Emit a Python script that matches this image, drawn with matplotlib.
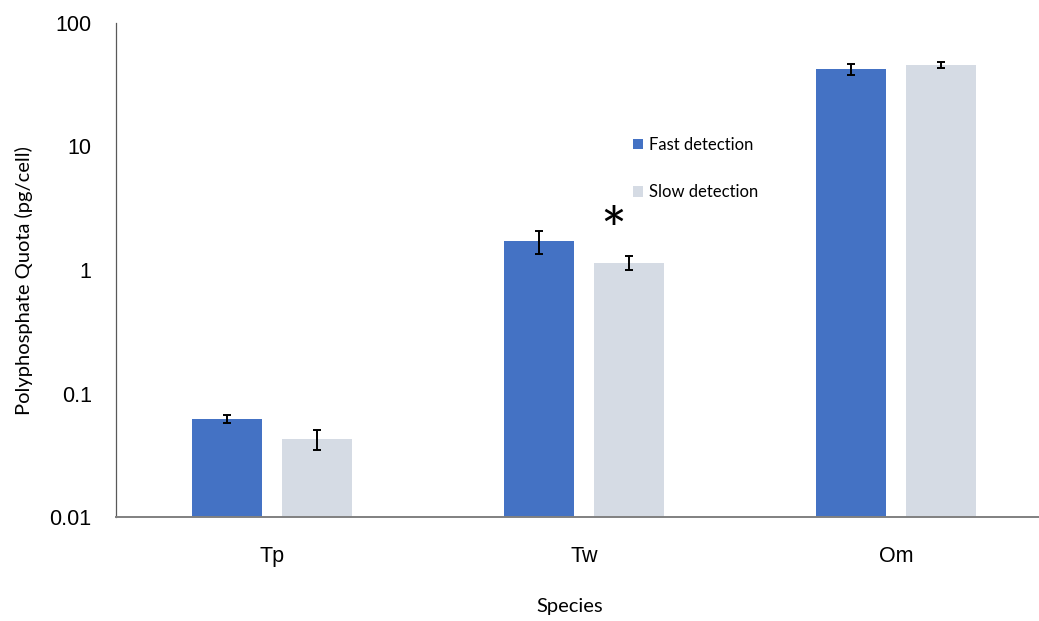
import numpy as np
import matplotlib
matplotlib.use("Agg")
import matplotlib.pyplot as plt
from matplotlib.ticker import FixedLocator, FixedFormatter, NullLocator

# ─── DATA ────────────────────────────────────────────────────────────────────
species = ["Tp", "Tw", "Om"]
fast_vals = [0.0624, 1.71, 42.1]
fast_err = [0.0045, 0.37, 4.3]
slow_vals = [0.043, 1.15, 45.6]
slow_err = [0.008, 0.15, 2.6]
yticks = [0.01, 0.1, 1, 10, 100]
ytick_labels = ["0.01", "0.1", "1", "10", "100"]

# ─── STYLE ───────────────────────────────────────────────────────────────────
BLUE, GREY = "#4472C4", "#D5DBE4"
LABEL_FONT = ["Lato", "DejaVu Sans"]
TICK_FONT = ["Liberation Sans", "DejaVu Sans"]

fig = plt.figure(figsize=(10.39, 6.21), dpi=100)
ax = fig.add_axes([116 / 1039, 104 / 621, 936 / 1039, 494 / 621])

x = np.arange(len(species))
off, w = 0.144, 0.224
err_kw = dict(ecolor="black", capsize=3, elinewidth=1.4, capthick=1.4)
ax.bar(x - off, fast_vals, w, yerr=fast_err, color=BLUE, label="Fast detection",
       error_kw=err_kw, zorder=2)
ax.bar(x + off, slow_vals, w, yerr=slow_err, color=GREY, label="Slow detection",
       error_kw=err_kw, zorder=2)

ax.set_yscale("log")
ax.set_ylim(0.01, 100)
ax.set_xlim(-0.5, 2.5)
ax.yaxis.set_major_locator(FixedLocator(yticks))
ax.yaxis.set_major_formatter(FixedFormatter(ytick_labels))
ax.yaxis.set_minor_locator(NullLocator())
ax.set_xticks(x)
ax.set_xticklabels(species)
ax.tick_params(axis="both", length=0, labelsize=15.5)
ax.tick_params(axis="y", pad=17.5)
ax.tick_params(axis="x", pad=21)
for lbl in ax.get_yticklabels() + ax.get_xticklabels():
    lbl.set_family(TICK_FONT)

for s in ["top", "right"]:
    ax.spines[s].set_visible(False)
ax.spines["left"].set_color("#595959")
ax.spines["left"].set_linewidth(0.9)
ax.spines["bottom"].set_color("#808080")
ax.spines["bottom"].set_linewidth(1.4)

ax.set_ylabel("Polyphosphate Quota (pg/cell)", fontsize=14.5, family=LABEL_FONT)
ax.yaxis.set_label_coords(-0.089, 0.478)
ax.set_xlabel("Species", fontsize=14.5, family=LABEL_FONT)
ax.xaxis.set_label_coords(0.485, -0.164)

# significance marker above Tw slow bar
ax.text(1.093, 1.39, "*", fontsize=44, ha="center", va="baseline", family=LABEL_FONT)

leg = ax.legend(loc="upper left", bbox_to_anchor=(0.536, 0.80), frameon=False,
                handlelength=0.6, handleheight=0.6, handletextpad=0.35,
                labelspacing=1.9, prop={"family": LABEL_FONT, "size": 12})

fig.savefig("out.png", dpi=100, facecolor="white")
